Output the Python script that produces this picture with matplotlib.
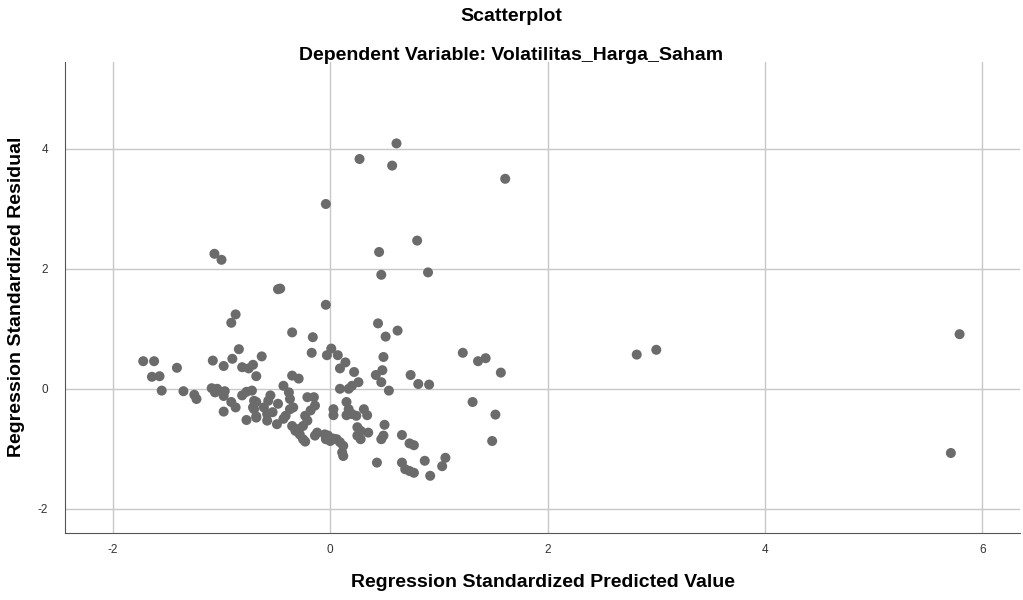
import matplotlib.pyplot as plt

plt.rcParams['font.family'] = ['Liberation Sans', 'DejaVu Sans']
plt.rcParams['axes.unicode_minus'] = False

# predicted (x) and residual (y)
pred = [
    -1.065, -1.00, -0.48, -0.87, -0.91, -0.84, -1.72, -1.62, -1.41, -1.08,
    -0.98, -0.90, -0.63, -0.81, -0.75, -0.71, -0.68, -1.64, -1.57, -1.55,
    -1.35, -1.25, -1.23, -1.09, -1.04, -1.06, -0.97, -0.98, -0.91, -0.87,
    -0.98, -0.81, -0.77, -0.72, -0.77, -0.70, -0.70, -0.68,
    -0.04, 0.44, 0.62, 0.51, -0.35, -0.16, -0.17, 0.01, -0.03, 0.07,
    0.14, 0.09, 0.22, 0.49, 0.48, 0.42, 0.47, 0.54, 0.74, 0.81, 0.91,
    0.26, 0.20, 0.17, 0.09, -0.35, -0.29, -0.43, -0.38, -0.37,
    -0.55, -0.57, -0.48, -0.61, -0.58, -0.53, -0.68, -0.71,
    -0.21, -0.15, -0.14, -0.18, -0.23, -0.21, -0.25, -0.29, -0.34, -0.37,
    -0.41, -0.43, -0.49, -0.58, -0.68,
    -0.35, -0.32, -0.28, -0.25, -0.23, -0.14, -0.12,
    -0.05, -0.02, 0.03, 0.06, 0.09, 0.12, 0.11, 0.12, -0.04, 0.00,
    0.03, 0.03, 0.15, 0.17, 0.15, 0.20, 0.24, 0.31, 0.34,
    0.25, 0.28, 0.25, 0.28, 0.35, 0.50, 0.49, 0.47,
    0.66, 0.73, 0.77, 0.43, 0.66, 0.69, 0.73, 0.77, 0.87, 0.92, 1.03, 1.06,
    0.61, 0.27, 0.57, -0.04, 0.80, 0.45, 0.47, 0.90, -0.46,
    1.61, 1.22, 1.36, 1.43, 1.57, 1.31, 1.52, 1.49,
    2.82, 3.00, 5.79, 5.71,
]
resid = [
    2.25, 2.15, 1.66, 1.24, 1.10, 0.66, 0.46, 0.46, 0.35, 0.47,
    0.38, 0.50, 0.54, 0.36, 0.34, 0.40, 0.21, 0.20, 0.21, -0.03,
    -0.04, -0.10, -0.17, 0.01, 0.00, -0.06, -0.04, -0.12, -0.22, -0.31,
    -0.38, -0.11, -0.05, -0.03, -0.52, -0.20, -0.34, -0.46,
    1.40, 1.09, 0.97, 0.87, 0.94, 0.86, 0.60, 0.67, 0.56, 0.56,
    0.44, 0.34, 0.28, 0.53, 0.31, 0.23, 0.11, -0.03, 0.23, 0.08, 0.07,
    0.11, 0.05, 0.00, 0.00, 0.22, 0.17, 0.05, -0.06, -0.17,
    -0.11, -0.20, -0.25, -0.31, -0.42, -0.39, -0.22, -0.31,
    -0.14, -0.14, -0.28, -0.36, -0.45, -0.53, -0.62, -0.67, -0.31, -0.34,
    -0.45, -0.50, -0.59, -0.53, -0.48,
    -0.62, -0.70, -0.76, -0.84, -0.88, -0.78, -0.73,
    -0.76, -0.78, -0.83, -0.84, -0.89, -0.95, -1.06, -1.12, -0.84, -0.87,
    -0.34, -0.44, -0.22, -0.34, -0.44, -0.42, -0.45, -0.34, -0.44,
    -0.64, -0.70, -0.78, -0.84, -0.73, -0.60, -0.78, -0.84,
    -0.77, -0.91, -0.94, -1.23, -1.23, -1.34, -1.37, -1.40, -1.20, -1.45, -1.29, -1.15,
    4.09, 3.83, 3.72, 3.08, 2.47, 2.28, 1.90, 1.94, 1.67,
    3.50, 0.60, 0.46, 0.51, 0.27, -0.22, -0.43, -0.87,
    0.57, 0.65, 0.91, -1.07,
]

x_ticks = [-2, 0, 2, 4, 6]
y_ticks = [-2, 0, 2, 4]

fig = plt.figure(figsize=(10.23, 6), dpi=100)
ax = fig.add_axes([0.0635, 0.112, 0.934, 0.785])

ax.scatter(pred, resid, s=52, color='#6b6b6b', edgecolors='none', zorder=3)

ax.set_xlim(-2.44, 6.35)
ax.set_ylim(-2.4, 5.45)
ax.set_xticks(x_ticks)
ax.set_yticks(y_ticks)
ax.grid(True, color='#c8c8c8', linewidth=1)
ax.set_axisbelow(True)
ax.tick_params(length=0, labelsize=8.5, colors='#333333')
ax.tick_params(axis='x', pad=8)
ax.tick_params(axis='y', pad=12)
for s in ['top', 'right']:
    ax.spines[s].set_visible(False)
for s in ['left', 'bottom']:
    ax.spines[s].set_color('#555555')

ax.set_xlabel('Regression Standardized Predicted Value', fontsize=14,
              fontweight='bold', labelpad=13)
ax.set_ylabel('Regression Standardized Residual', fontsize=14,
              fontweight='bold', labelpad=9)

fig.text(0.5, 0.972, 'Scatterplot', ha='center', va='center',
         fontsize=14, fontweight='bold')
fig.text(0.5, 0.908, 'Dependent Variable: Volatilitas_Harga_Saham',
         ha='center', va='center', fontsize=14, fontweight='bold')

fig.savefig('out.png', dpi=100)
